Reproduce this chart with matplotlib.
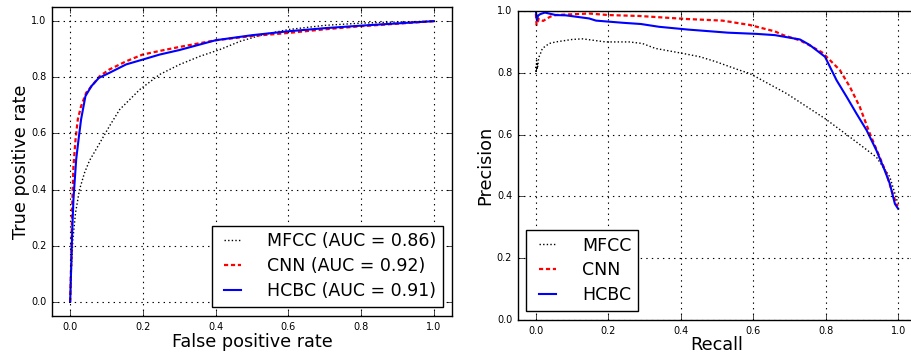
import matplotlib
matplotlib.use("Agg")
import matplotlib.pyplot as plt
import numpy as np

plt.style.use("classic")

# ROC curves (false positive rate, true positive rate)
mfcc_fpr = [0.0, 0.003, 0.0074, 0.0147, 0.0257, 0.0395, 0.053, 0.076, 0.108, 0.136,
            0.191, 0.246, 0.3, 0.357, 0.412, 0.467, 0.53, 0.6, 0.7, 0.8, 0.9, 1.0]
mfcc_tpr = [0.0, 0.103, 0.222, 0.317, 0.40, 0.46, 0.503, 0.554, 0.626, 0.685,
            0.756, 0.81, 0.845, 0.875, 0.899, 0.928, 0.952, 0.970, 0.985, 0.993, 0.997, 1.0]
cnn_fpr = [0.0, 0.003, 0.0055, 0.009, 0.0147, 0.021, 0.030, 0.044, 0.0625, 0.081, 0.108,
           0.154, 0.199, 0.25, 0.3, 0.4, 0.5, 0.6, 0.7, 0.8, 0.9, 1.0]
cnn_tpr = [0.0, 0.15, 0.34, 0.483, 0.578, 0.65, 0.697, 0.745, 0.774, 0.804, 0.828,
           0.857, 0.881, 0.895, 0.908, 0.932, 0.947, 0.958, 0.971, 0.982, 0.991, 1.0]
hcbc_fpr = [0.0, 0.0055, 0.009, 0.0165, 0.023, 0.030, 0.042, 0.058, 0.079, 0.108,
            0.154, 0.199, 0.246, 0.3, 0.4, 0.5, 0.6, 0.7, 0.8, 0.9, 1.0]
hcbc_tpr = [0.0, 0.246, 0.365, 0.507, 0.578, 0.65, 0.733, 0.768, 0.798, 0.816,
            0.846, 0.863, 0.881, 0.897, 0.932, 0.950, 0.964, 0.975, 0.984, 0.992, 1.0]

# Precision-recall curves
mfcc_rec = [0.0, 0.001, 0.002, 0.003, 0.004, 0.005, 0.008, 0.012, 0.018, 0.037, 0.055,
            0.1, 0.129, 0.193, 0.258, 0.294, 0.33, 0.405, 0.453, 0.497, 0.561, 0.59,
            0.692, 0.798, 0.867, 0.94, 0.977, 0.996, 1.0]
mfcc_pre = [0.82, 0.80, 0.84, 0.81, 0.83, 0.82, 0.85, 0.86, 0.879, 0.895, 0.90,
            0.908, 0.91, 0.90, 0.90, 0.895, 0.879, 0.863, 0.852, 0.836, 0.809, 0.798,
            0.733, 0.652, 0.592, 0.527, 0.463, 0.39, 0.38]
cnn_rec = [0.0, 0.002, 0.008, 0.02, 0.04, 0.055, 0.147, 0.2, 0.285, 0.42, 0.515, 0.59,
           0.66, 0.683, 0.729, 0.754, 0.79, 0.798, 0.839, 0.867, 0.894, 0.922, 0.949,
           0.968, 0.982, 0.995, 1.0]
cnn_pre = [0.99, 0.955, 0.975, 0.968, 0.982, 0.987, 0.992, 0.987, 0.984, 0.974, 0.969, 0.955,
           0.934, 0.922, 0.905, 0.89, 0.866, 0.857, 0.809, 0.754, 0.69, 0.603, 0.527,
           0.473, 0.419, 0.376, 0.37]
hcbc_rec = [0.0, 0.003, 0.006, 0.012, 0.025, 0.055, 0.083, 0.147, 0.166, 0.24, 0.29, 0.34,
            0.42, 0.53, 0.61, 0.66, 0.729, 0.756, 0.798, 0.830, 0.858, 0.885, 0.913,
            0.940, 0.963, 0.977, 0.991, 1.0]
hcbc_pre = [1.0, 0.97, 0.985, 0.99, 0.995, 0.987, 0.986, 0.976, 0.969, 0.962, 0.958, 0.949,
            0.94, 0.93, 0.926, 0.922, 0.908, 0.89, 0.852, 0.776, 0.722, 0.668, 0.614,
            0.549, 0.484, 0.441, 0.376, 0.36]

ticks = [0.0, 0.2, 0.4, 0.6, 0.8, 1.0]

dot_style = dict(color="black", linestyle=(0, (1.0, 1.6)), lw=1.0)
dash_style = dict(color="red", linestyle=(0, (3.0, 2.0)), lw=1.6)
solid_style = dict(color="blue", linestyle="-", lw=1.5)
leg_kw = dict(fontsize=12.5, handlelength=1.6, handletextpad=1.2,
              labelspacing=0.4, fancybox=False)

fig = plt.figure(figsize=(9.12, 3.56), dpi=100, facecolor="white")
ax1 = fig.add_axes([0.057, 0.1124, 0.4386, 0.8676])
ax2 = fig.add_axes([0.5677, 0.101, 0.437, 0.868])

ax1.plot(mfcc_fpr, mfcc_tpr, label="MFCC (AUC = 0.86)", **dot_style)
ax1.plot(cnn_fpr, cnn_tpr, label="CNN (AUC = 0.92)", **dash_style)
ax1.plot(hcbc_fpr, hcbc_tpr, label="HCBC (AUC = 0.91)", **solid_style)
ax1.set_xlim(-0.05, 1.05)
ax1.set_ylim(-0.05, 1.05)
ax1.set_xlabel("False positive rate", fontsize=12.7, labelpad=1)
ax1.set_ylabel("True positive rate", fontsize=12.7, labelpad=1)
ax1.legend(loc="lower right", **leg_kw)

ax2.plot(mfcc_rec, mfcc_pre, label="MFCC", **dot_style)
ax2.plot(cnn_rec, cnn_pre, label="CNN", **dash_style)
ax2.plot(hcbc_rec, hcbc_pre, label="HCBC", **solid_style)
ax2.set_xlim(-0.05, 1.05)
ax2.set_ylim(0.0, 1.0)
ax2.set_xlabel("Recall", fontsize=12.7, labelpad=0)
ax2.set_ylabel("Precision", fontsize=12.7, labelpad=2)
ax2.legend(loc="lower left", **leg_kw)

for ax in (ax1, ax2):
    ax.set_xticks(ticks)
    ax.set_yticks(ticks)
    ax.tick_params(labelsize=7)
    ax.grid(True, color="black", linestyle=":", lw=0.8)

fig.savefig("out.png", dpi=100, facecolor="white")
